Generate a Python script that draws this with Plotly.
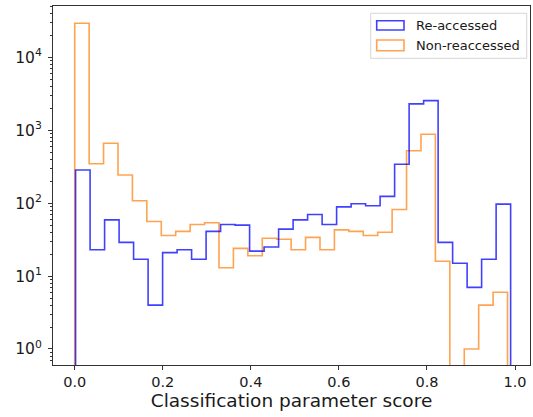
import numpy as np
import plotly.graph_objects as go

# ---- data ----
n_bins = 30
reaccessed_range = (0.002, 0.990)
nonreaccessed_range = (0.0, 0.983)
reaccessed_counts = [285, 23, 59, 29, 17, 4, 21, 23, 17, 41,
                     51, 50, 22, 25, 44, 59, 70, 51, 89, 98,
                     92, 124, 342, 2300, 2550, 29, 15, 7, 17, 97]
nonreaccessed_counts = [29400, 348, 663, 244, 108, 56, 36, 41, 51, 54,
                        13, 24, 19, 33, 32, 23, 34, 23, 43, 41,
                        36, 40, 82, 525, 881, 16, 0, 1, 4, 6]
series_names = ["Re-accessed", "Non-reaccessed"]
x_tick_vals = [0.0, 0.2, 0.4, 0.6, 0.8, 1.0]
y_tick_vals = [1, 10, 100, 1000, 10000]
y_tick_text = ["10<sup>0</sup>", "10<sup>1</sup>", "10<sup>2</sup>", "10<sup>3</sup>", "10<sup>4</sup>"]

BLUE = "rgba(0,0,255,0.75)"
ORANGE = "rgba(255,127,14,0.72)"
FLOOR = 1e-3  # drawing baseline for empty bins (below visible range on log axis)


def step_xy(rng, counts):
    edges = np.linspace(rng[0], rng[1], n_bins + 1)
    c = [max(v, FLOOR) for v in counts]
    xs = [edges[0]] + list(edges[:-1]) + [edges[-1], edges[-1]]
    ys = [FLOOR] + c + [c[-1], FLOOR]
    return xs, ys


fig = go.Figure()
for rng, counts, color, name in [
    (nonreaccessed_range, nonreaccessed_counts, ORANGE, series_names[1]),
    (reaccessed_range, reaccessed_counts, BLUE, series_names[0]),
]:
    xs, ys = step_xy(rng, counts)
    fig.add_trace(go.Scatter(x=xs, y=ys, mode="lines", line=dict(color=color, width=1.6, shape="hv"),
                             name=name, showlegend=False, hoverinfo="skip"))

# plot-area geometry in pixels
W, H = 533, 417
L, R, T, B = 53, 530, 6, 365


def px(x):
    return (x - L) / (R - L)


def py(y):
    return (B - y) / (B - T)


minor_vals = [k * 10 ** e for e in range(-1, 5) for k in range(2, 10)]

fig.update_layout(
    width=W, height=H,
    margin=dict(l=L, r=W - R, t=T, b=H - B, autoexpand=False),
    paper_bgcolor="white", plot_bgcolor="white",
    font=dict(family="DejaVu Sans", color="#1a1a1a", size=14.5),
    showlegend=False,
    xaxis=dict(
        range=[-0.0493, 1.034], tickvals=x_tick_vals, tickformat=".1f", automargin=False,
        showgrid=False, zeroline=False, showline=True, linecolor="#333", linewidth=1, mirror=True,
        ticks="outside", ticklen=4, tickcolor="#333", tickfont=dict(size=14.5),
        title=dict(text="Classification parameter score", font=dict(size=18.5), standoff=4),
    ),
    yaxis=dict(
        type="log", range=[-0.22, 4.705], tickvals=y_tick_vals, ticktext=y_tick_text, automargin=False,
        showgrid=False, zeroline=False, showline=True, linecolor="#333", linewidth=1, mirror=True,
        ticks="outside", ticklen=4, tickcolor="#333", tickfont=dict(size=15.5),
        ticklabelstandoff=3,
        minor=dict(tickmode="array", tickvals=minor_vals, ticks="outside", ticklen=2,
                   tickcolor="#333", showgrid=False),
    ),
)

# custom legend (rectangle outline patches like the reference)
shapes = [
    dict(type="rect", xref="paper", yref="paper", x0=px(370.7), x1=px(526.7), y0=py(58.3), y1=py(13.3),
         line=dict(color="#d6d6d6", width=1), fillcolor="rgba(255,255,255,0.85)", layer="above"),
    dict(type="rect", xref="paper", yref="paper", x0=px(376.7), x1=px(404), y0=py(30), y1=py(20.7),
         line=dict(color=BLUE, width=1.6), fillcolor="rgba(0,0,0,0)", layer="above"),
    dict(type="rect", xref="paper", yref="paper", x0=px(376.7), x1=px(404), y0=py(50.7), y1=py(40),
         line=dict(color=ORANGE, width=1.6), fillcolor="rgba(0,0,0,0)", layer="above"),
]
annotations = [
    dict(xref="paper", yref="paper", x=px(414), y=py(25.3), text=series_names[0], showarrow=False,
         xanchor="left", yanchor="middle", font=dict(size=13, color="#1a1a1a")),
    dict(xref="paper", yref="paper", x=px(414), y=py(45.3), text=series_names[1], showarrow=False,
         xanchor="left", yanchor="middle", font=dict(size=13, color="#1a1a1a")),
]
fig.update_layout(shapes=shapes, annotations=annotations)

fig.write_html("out.html", config={"displayModeBar": False},
               post_script="document.body.style.margin='0';document.body.style.padding='0';")
